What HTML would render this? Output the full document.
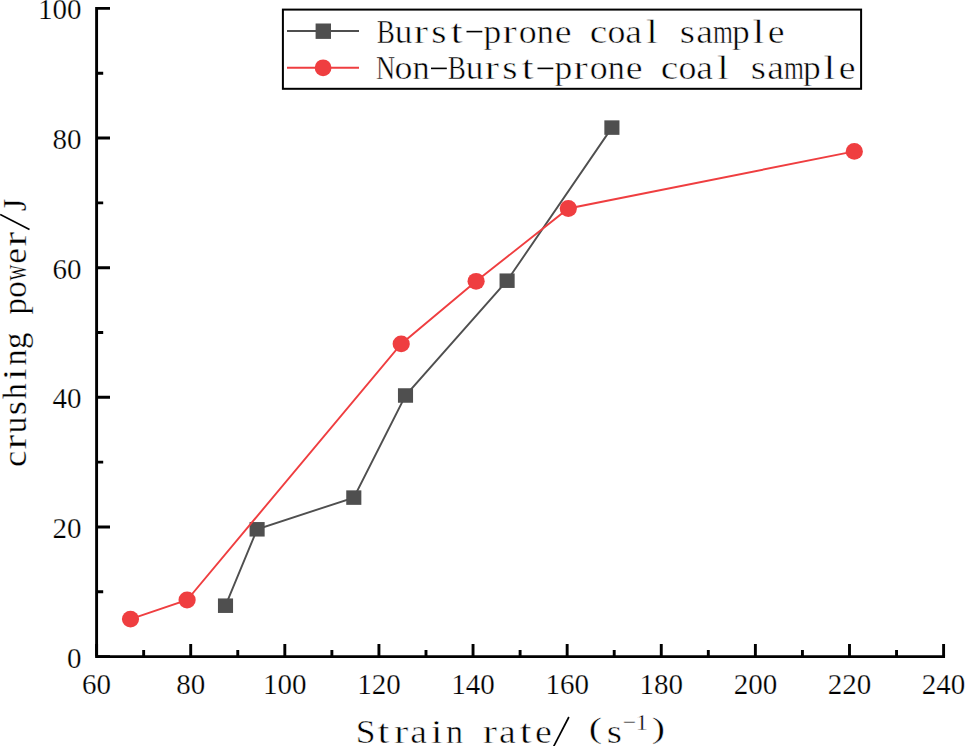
<!DOCTYPE html>
<html><head><meta charset="utf-8"><style>html,body{margin:0;padding:0;background:#fff;overflow:hidden}svg{display:block}</style></head>
<body><svg width="965" height="746" viewBox="0 0 965 746"><path d="M96.60 6.95 V656.60 H945.05" fill="none" stroke="#000" stroke-width="2.9"/>
<path d="M96.60 656.60h13.4 M96.60 591.78h6.6 M96.60 526.96h13.4 M96.60 462.14h6.6 M96.60 397.32h13.4 M96.60 332.50h6.6 M96.60 267.68h13.4 M96.60 202.86h6.6 M96.60 138.04h13.4 M96.60 73.22h6.6 M96.60 8.40h13.4 M96.60 656.60v-12.5 M143.66 656.60v-6.6 M190.71 656.60v-12.5 M237.77 656.60v-6.6 M284.82 656.60v-12.5 M331.88 656.60v-6.6 M378.93 656.60v-12.5 M425.99 656.60v-6.6 M473.04 656.60v-12.5 M520.10 656.60v-6.6 M567.16 656.60v-12.5 M614.21 656.60v-6.6 M661.27 656.60v-12.5 M708.32 656.60v-6.6 M755.38 656.60v-12.5 M802.43 656.60v-6.6 M849.49 656.60v-12.5 M896.54 656.60v-6.6 M943.60 656.60v-12.5" stroke="#000" stroke-width="2.9" fill="none"/>
<g font-family="Liberation Serif" font-size="29" fill="#000" stroke="#fff" stroke-width="0.25"><text x="81.5" y="667.6" text-anchor="end">0</text><text x="81.5" y="538.0" text-anchor="end">20</text><text x="81.5" y="408.3" text-anchor="end">40</text><text x="81.5" y="278.7" text-anchor="end">60</text><text x="81.5" y="149.0" text-anchor="end">80</text><text x="81.5" y="19.4" text-anchor="end">100</text><text x="96.6" y="693.8" text-anchor="middle">60</text><text x="190.7" y="693.8" text-anchor="middle">80</text><text x="284.8" y="693.8" text-anchor="middle">100</text><text x="378.9" y="693.8" text-anchor="middle">120</text><text x="473.0" y="693.8" text-anchor="middle">140</text><text x="567.2" y="693.8" text-anchor="middle">160</text><text x="661.3" y="693.8" text-anchor="middle">180</text><text x="755.4" y="693.8" text-anchor="middle">200</text><text x="849.5" y="693.8" text-anchor="middle">220</text><text x="943.6" y="693.8" text-anchor="middle">240</text></g>
<path d="M225.5 605.7 L257.1 529.3 L353.8 497.6 L405.5 395.5 L507.1 280.7 L611.9 127.6" fill="none" stroke="#4f4f4f" stroke-width="1.9"/>
<rect x="217.95" y="598.45" width="15.1" height="14.5" fill="#4f4f4f"/>
<rect x="249.55" y="522.05" width="15.1" height="14.5" fill="#4f4f4f"/>
<rect x="346.25" y="490.35" width="15.1" height="14.5" fill="#4f4f4f"/>
<rect x="397.95" y="388.25" width="15.1" height="14.5" fill="#4f4f4f"/>
<rect x="499.55" y="273.45" width="15.1" height="14.5" fill="#4f4f4f"/>
<rect x="604.35" y="120.35" width="15.1" height="14.5" fill="#4f4f4f"/>
<path d="M130.5 619.1 L187.1 600.0 L401.2 343.9 L476.1 281.3 L568.3 208.5 L854.3 151.4" fill="none" stroke="#ef3e40" stroke-width="1.9"/>
<ellipse cx="130.5" cy="619.1" rx="8.6" ry="8.4" fill="#ef3e40"/>
<ellipse cx="187.1" cy="600.0" rx="8.6" ry="8.4" fill="#ef3e40"/>
<ellipse cx="401.2" cy="343.9" rx="8.6" ry="8.4" fill="#ef3e40"/>
<ellipse cx="476.1" cy="281.3" rx="8.6" ry="8.4" fill="#ef3e40"/>
<ellipse cx="568.3" cy="208.5" rx="8.6" ry="8.4" fill="#ef3e40"/>
<ellipse cx="854.3" cy="151.4" rx="8.6" ry="8.4" fill="#ef3e40"/>
<rect x="282.9" y="9.6" width="578.2" height="79.2" fill="none" stroke="#000" stroke-width="2"/>
<path d="M287 31H359" stroke="#4f4f4f" stroke-width="2"/>
<rect x="315.6" y="23.5" width="15.4" height="15.4" fill="#4f4f4f"/>
<path d="M287 67.7H359" stroke="#ef3e40" stroke-width="2"/>
<circle cx="323.1" cy="67.8" r="8.4" fill="#ef3e40"/>
<g font-family="Liberation Serif" font-size="33" stroke="#fff" stroke-width="0.5"><text transform="translate(385.6 42.6) scale(0.823 1)" x="-10.7">B</text><text transform="translate(403.4 42.6) scale(1.071 1)" x="-8.2">u</text><text transform="translate(421.1 42.6) scale(1.300 1)" x="-5.7">r</text><text transform="translate(438.9 42.6) scale(1.185 1)" x="-6.5">s</text><text transform="translate(456.6 42.6) scale(1.300 1)" x="-4.6">t</text><rect x="466.5" y="30.8" width="15.8" height="1.6" stroke="none"/><text transform="translate(492.1 42.6) scale(1.076 1)" x="-7.9">p</text><text transform="translate(509.9 42.6) scale(1.300 1)" x="-5.7">r</text><text transform="translate(527.6 42.6) scale(1.087 1)" x="-8.2">o</text><text transform="translate(545.4 42.6) scale(1.037 1)" x="-8.4">n</text><text transform="translate(563.1 42.6) scale(1.146 1)" x="-7.4">e</text><text transform="translate(598.6 42.6) scale(1.196 1)" x="-7.4">c</text><text transform="translate(616.4 42.6) scale(1.087 1)" x="-8.2">o</text><text transform="translate(634.1 42.6) scale(1.143 1)" x="-7.7">a</text><text transform="translate(651.9 42.6) scale(1.300 1)" x="-4.6">l</text><text transform="translate(687.4 42.6) scale(1.185 1)" x="-6.5">s</text><text transform="translate(705.1 42.6) scale(1.143 1)" x="-7.7">a</text><text transform="translate(722.9 42.6) scale(0.777 1)" x="-12.9">m</text><text transform="translate(740.6 42.6) scale(1.076 1)" x="-7.9">p</text><text transform="translate(758.4 42.6) scale(1.300 1)" x="-4.6">l</text><text transform="translate(776.1 42.6) scale(1.146 1)" x="-7.4">e</text></g>
<g font-family="Liberation Serif" font-size="33" stroke="#fff" stroke-width="0.5"><text transform="translate(385.6 79.4) scale(0.805 1)" x="-12.0">N</text><text transform="translate(403.4 79.4) scale(1.087 1)" x="-8.2">o</text><text transform="translate(421.1 79.4) scale(1.037 1)" x="-8.4">n</text><rect x="431.0" y="67.6" width="15.8" height="1.6" stroke="none"/><text transform="translate(456.6 79.4) scale(0.823 1)" x="-10.7">B</text><text transform="translate(474.4 79.4) scale(1.071 1)" x="-8.2">u</text><text transform="translate(492.1 79.4) scale(1.300 1)" x="-5.7">r</text><text transform="translate(509.9 79.4) scale(1.185 1)" x="-6.5">s</text><text transform="translate(527.6 79.4) scale(1.300 1)" x="-4.6">t</text><rect x="537.5" y="67.6" width="15.8" height="1.6" stroke="none"/><text transform="translate(563.1 79.4) scale(1.076 1)" x="-7.9">p</text><text transform="translate(580.9 79.4) scale(1.300 1)" x="-5.7">r</text><text transform="translate(598.6 79.4) scale(1.087 1)" x="-8.2">o</text><text transform="translate(616.4 79.4) scale(1.037 1)" x="-8.4">n</text><text transform="translate(634.1 79.4) scale(1.146 1)" x="-7.4">e</text><text transform="translate(669.6 79.4) scale(1.196 1)" x="-7.4">c</text><text transform="translate(687.4 79.4) scale(1.087 1)" x="-8.2">o</text><text transform="translate(705.1 79.4) scale(1.143 1)" x="-7.7">a</text><text transform="translate(722.9 79.4) scale(1.300 1)" x="-4.6">l</text><text transform="translate(758.4 79.4) scale(1.185 1)" x="-6.5">s</text><text transform="translate(776.1 79.4) scale(1.143 1)" x="-7.7">a</text><text transform="translate(793.9 79.4) scale(0.777 1)" x="-12.9">m</text><text transform="translate(811.6 79.4) scale(1.076 1)" x="-7.9">p</text><text transform="translate(829.4 79.4) scale(1.300 1)" x="-4.6">l</text><text transform="translate(847.1 79.4) scale(1.146 1)" x="-7.4">e</text></g>
<g font-family="Liberation Serif" font-size="33" stroke="#fff" stroke-width="0.5"><text transform="translate(365.7 742.5) scale(1.078 1)" x="-9.3">S</text><text transform="translate(383.5 742.5) scale(1.300 1)" x="-4.6">t</text><text transform="translate(401.3 742.5) scale(1.300 1)" x="-5.7">r</text><text transform="translate(419.0 742.5) scale(1.143 1)" x="-7.7">a</text><text transform="translate(436.8 742.5) scale(1.300 1)" x="-4.6">i</text><text transform="translate(454.6 742.5) scale(1.037 1)" x="-8.4">n</text><text transform="translate(490.2 742.5) scale(1.300 1)" x="-5.7">r</text><text transform="translate(507.9 742.5) scale(1.143 1)" x="-7.7">a</text><text transform="translate(525.7 742.5) scale(1.300 1)" x="-4.6">t</text><text transform="translate(543.5 742.5) scale(1.146 1)" x="-7.4">e</text><path d="M553.7 746.3L568.9 717.0" stroke="#000" stroke-width="1.7"/></g>
<g font-family="Liberation Serif" fill="#000" stroke="#fff" stroke-width="0.4"><text transform="translate(595.55 738.3) scale(1.33 1)" x="-5.17" font-size="30">(</text><g font-family="Liberation Serif" font-size="33" stroke="#fff" stroke-width="0.5"><text transform="translate(614.5 742.5) scale(1.185 1)" x="-6.5">s</text></g><text x="622.8 635.7" y="730" font-size="24">&#8722;1</text><text transform="translate(658.15 738.3) scale(1.33 1)" x="-4.82" font-size="30">)</text></g>
<g transform="translate(25.7 466) rotate(-90)"><g font-family="Liberation Serif" font-size="33" stroke="#fff" stroke-width="0.3"><text transform="translate(7.2 0) scale(1.112 1)" x="-7.4">c</text><text transform="translate(24.1 0) scale(1.300 1)" x="-5.7">r</text><text transform="translate(41.0 0) scale(0.996 1)" x="-8.2">u</text><text transform="translate(57.9 0) scale(1.102 1)" x="-6.5">s</text><text transform="translate(74.8 0) scale(0.945 1)" x="-8.2">h</text><text transform="translate(91.8 0) scale(1.300 1)" x="-4.6">i</text><text transform="translate(108.7 0) scale(0.964 1)" x="-8.4">n</text><text transform="translate(125.6 0) scale(0.997 1)" x="-8.6">g</text><text transform="translate(159.4 0) scale(1.001 1)" x="-7.9">p</text><text transform="translate(176.4 0) scale(1.011 1)" x="-8.2">o</text><text transform="translate(193.3 0) scale(0.661 1)" x="-11.9">w</text><text transform="translate(210.2 0) scale(1.066 1)" x="-7.4">e</text><text transform="translate(227.1 0) scale(1.300 1)" x="-5.7">r</text><path d="M236.4 3.8L251.6 -25.5" stroke="#000" stroke-width="1.7"/><text transform="translate(260.9 0) scale(0.974 1)" x="-6.4">J</text></g></g></svg></body></html>
